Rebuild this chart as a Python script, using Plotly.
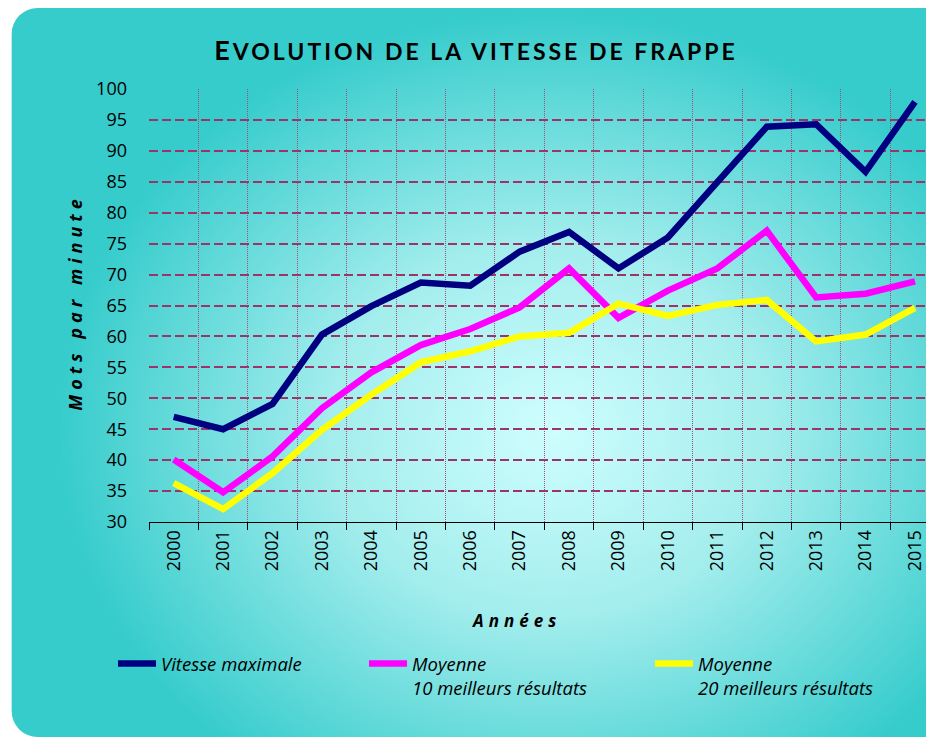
import base64
import plotly.graph_objects as go

# ---- data ----
years = [str(y) for y in range(2000, 2016)]
vitesse_max = [47.0, 45.0, 49.1, 60.3, 64.9, 68.7, 68.2, 73.7, 76.9, 71.0, 76.0, 85.0, 93.9, 94.3, 86.6, 97.9]
moy_10 = [40.1, 34.8, 40.6, 48.4, 54.2, 58.6, 61.2, 64.7, 71.0, 63.0, 67.4, 71.0, 77.1, 66.3, 66.9, 68.9]
moy_20 = [36.3, 32.1, 37.9, 44.9, 50.6, 55.8, 57.6, 60.0, 60.6, 65.3, 63.3, 65.1, 65.9, 59.2, 60.3, 64.6]
series_names = ["Vitesse maximale", "Moyenne<br>10 meilleurs résultats", "Moyenne<br>20 meilleurs résultats"]
y_ticks = list(range(30, 101, 5))

# ---- layout constants ----
W, H = 926, 738
ML, MR, MT, MB = 149.3, 0, 89, 216
PW = W - ML - MR
PH = H - MT - MB
FONT = "Open Sans"
GRID = "#9B3468"

def px_x(p):  # pixel -> paper x
    return (p - ML) / PW

def px_y(p):
    return 1 - (p - MT) / PH

# background: rounded rectangle with radial gradient
svg = f'''<svg xmlns="http://www.w3.org/2000/svg" width="{W}" height="{H}" viewBox="0 0 {W} {H}">
<defs><radialGradient id="g" gradientUnits="userSpaceOnUse" cx="550" cy="430" r="490"
 gradientTransform="translate(550 430) scale(1 0.85) translate(-550 -430)">
<stop offset="0" stop-color="#CFFEFE"/><stop offset="0.45" stop-color="#A3EDED"/><stop offset="1" stop-color="#37CCCC"/></radialGradient></defs>
<rect x="12" y="8" width="960" height="729" rx="26" ry="26" fill="url(#g)"/></svg>'''
bg_src = "data:image/svg+xml;base64," + base64.b64encode(svg.encode()).decode()

colors = ["#000080", "#FF00FF", "#FFFF00"]
values = [vitesse_max, moy_10, moy_20]
legend_ids = ["legend", "legend2", "legend3"]

fig = go.Figure()
for name, vals, col, lg in zip(series_names, values, colors, legend_ids):
    fig.add_trace(go.Scatter(
        x=years, y=vals, name=name, mode="lines",
        line=dict(color=col, width=6.5), legend=lg,
    ))

legend_common = dict(
    orientation="v", xref="container", yref="container", xanchor="left", yanchor="top",
    font=dict(family=FONT, size=18.5, color="black", style="italic"),
    bgcolor="rgba(0,0,0,0)", itemwidth=38, valign="top",
)

fig.update_layout(
    width=W, height=H,
    margin=dict(l=ML, r=MR, t=MT, b=MB, autoexpand=False),
    paper_bgcolor="white",
    plot_bgcolor="rgba(0,0,0,0)",
    showlegend=True,
    legend=dict(**legend_common, x=113 / W, y=1 - 645 / H),
    legend2=dict(**legend_common, x=364 / W, y=1 - 645 / H),
    legend3=dict(**legend_common, x=650 / W, y=1 - 645 / H),
    title=dict(
        text="<b><span style='letter-spacing:3px'><span style='font-size:27px'>E</span>VOLUTION DE LA VITESSE DE FRAPPE</span></b>",
        x=476 / W, xanchor="center", y=1 - 52 / H, yanchor="middle",
        font=dict(family="Lato", size=23, color="black"),
    ),
    xaxis=dict(
        type="category", range=[-0.5, -0.5 + PW / 49.4],
        tickson="boundaries", ticks="outside", ticklen=7, tickcolor="black", tickwidth=1,
        tickangle=-90, tickfont=dict(family=FONT, size=18, color="black"),
        showline=True, linecolor="black", linewidth=1,
        showgrid=True, gridcolor="#A0507A", gridwidth=1, griddash="1px,1px",
        fixedrange=True,
    ),
    yaxis=dict(
        range=[30, 100], tickvals=y_ticks, ticks="",
        tickfont=dict(family=FONT, size=18, color="black"),
        ticklabelstandoff=21,
        showline=False, zeroline=False,
        showgrid=True, gridcolor=GRID, gridwidth=2, griddash="9px,4px",
        fixedrange=True,
    ),
    images=[dict(
        source=bg_src, xref="paper", yref="paper",
        x=px_x(0), y=px_y(0), sizex=W / PW, sizey=H / PH,
        xanchor="left", yanchor="top", sizing="stretch", layer="below",
    )],
    annotations=[
        dict(text="<b><i><span style='letter-spacing:5px'>Mots par minute</span></i></b>",
             xref="paper", yref="paper", x=px_x(75), y=px_y(303), textangle=-90,
             showarrow=False, font=dict(family=FONT, size=18, color="black"),
             xanchor="center", yanchor="middle"),
        dict(text="<b><i><span style='letter-spacing:5px'>Années</span></i></b>",
             xref="paper", yref="paper", x=px_x(516), y=px_y(620),
             showarrow=False, font=dict(family=FONT, size=17, color="black"),
             xanchor="center", yanchor="middle"),
    ],
)

fig.write_html(
    "out.html",
    config={"displayModeBar": False},
    post_script="document.body.style.margin='0';document.body.style.overflow='hidden';",
)
